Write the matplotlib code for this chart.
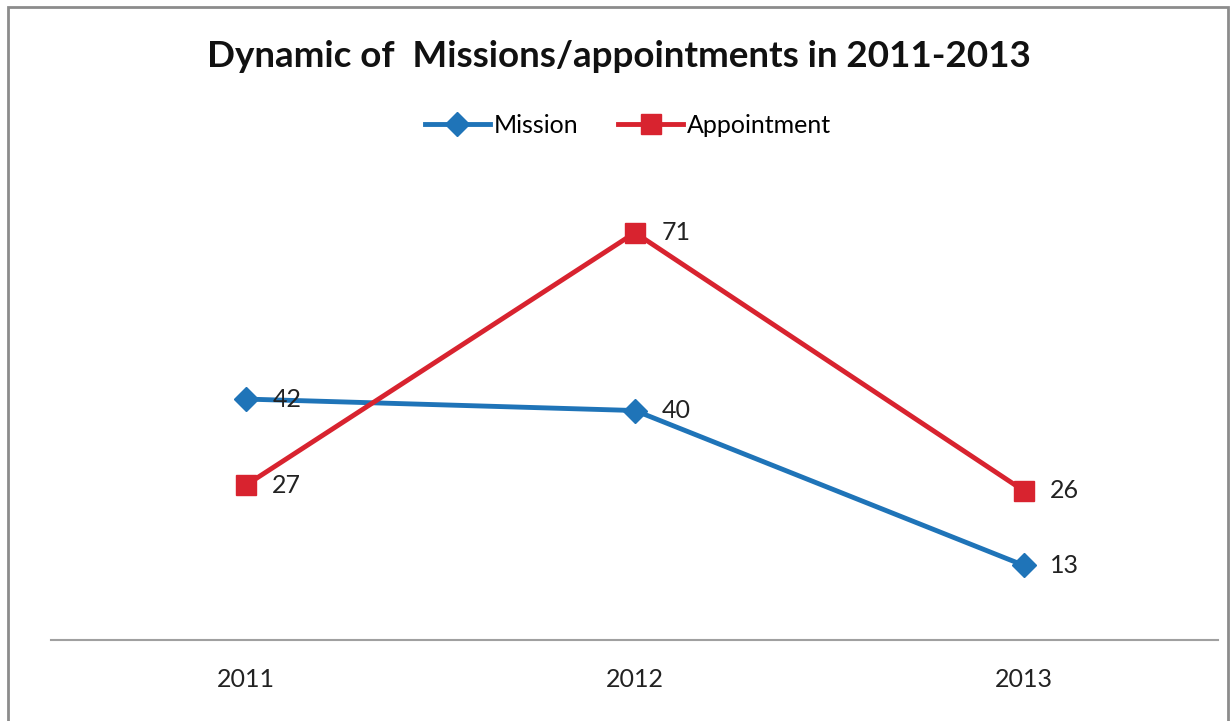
import matplotlib.pyplot as plt
from matplotlib.patches import Rectangle

# Données
years = ['2011', '2012', '2013']
mission = [42, 40, 13]
appointment = [27, 71, 26]

blue = '#1f74b8'
red = '#d8232f'
plt.rcParams['font.family'] = ['Lato', 'DejaVu Sans']

fig = plt.figure(figsize=(12.31, 7.21), dpi=100)
ax = fig.add_axes([0.0418, 0.1123, 0.948, 0.6366])

x = range(len(years))
ax.plot(x, mission, color=blue, lw=3.5, marker='D', markersize=12, label='Mission')
ax.plot(x, appointment, color=red, lw=3.5, marker='s', markersize=15, label='Appointment')

# Étiquettes des valeurs
for xi, v in zip(x, mission):
    ax.annotate(str(v), (xi, v), xytext=(19, 0), textcoords='offset points',
                ha='left', va='center', fontsize=18, color='#222222')
for xi, v in zip(x, appointment):
    ax.annotate(str(v), (xi, v), xytext=(19, 0), textcoords='offset points',
                ha='left', va='center', fontsize=18, color='#222222')

ax.set_xlim(-0.5, 2.5)
ax.set_ylim(0, 80)
ax.set_xticks(list(x))
ax.set_xticklabels(years, fontsize=18, color='#222222')
ax.tick_params(axis='x', length=0, pad=20)
ax.set_yticks([])
for s in ['top', 'right', 'left']:
    ax.spines[s].set_visible(False)
ax.spines['bottom'].set_color('#a0a0a0')
ax.spines['bottom'].set_linewidth(1.5)

fig.text(0.503, 0.922, 'Dynamic of  Missions/appointments in 2011-2013',
         ha='center', va='center', fontsize=26.5, fontweight='bold', color='#111111')
fig.legend(loc='center', bbox_to_anchor=(0.51, 0.826), ncol=2, frameon=False,
           fontsize=18, handlelength=2.6, columnspacing=1.6, handletextpad=0.15)

# Cadre gris
fig.patches.append(Rectangle((8 / 1231, -0.1), (1228 - 8) / 1231, 1.1 - 7 / 721,
                             transform=fig.transFigure, fill=False,
                             edgecolor='#8c8c8c', lw=2))

fig.savefig('out.png')
